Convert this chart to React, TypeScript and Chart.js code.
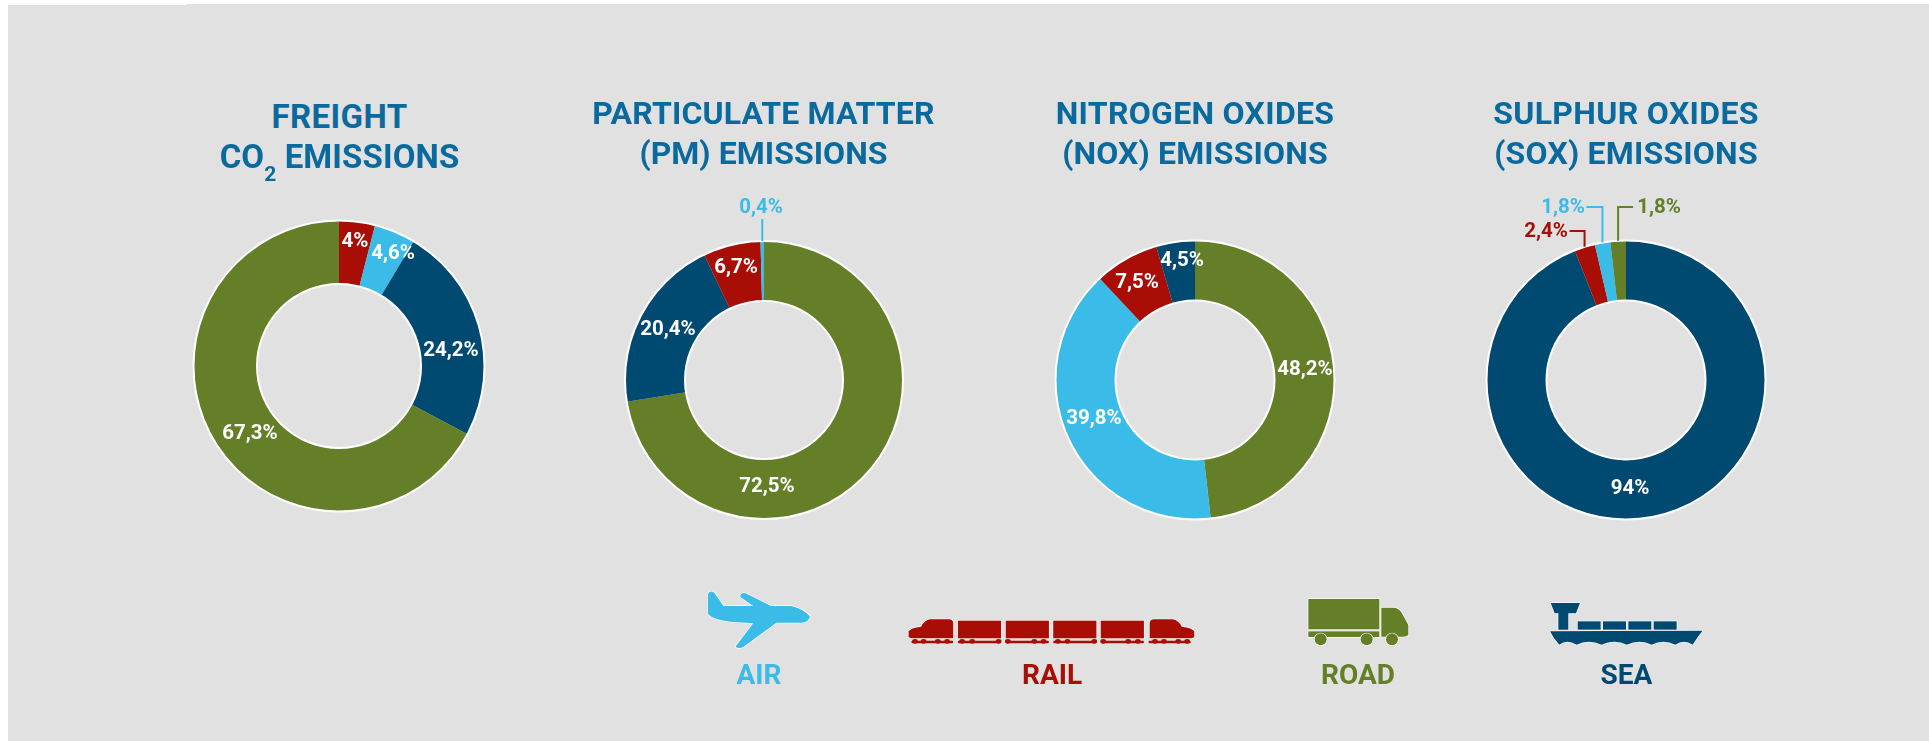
import React, { useEffect, useRef } from "react";
import { Chart, registerables } from "chart.js";

Chart.register(...registerables);

const C = { air: "#3bbce8", rail: "#a80e05", road: "#647f27", sea: "#004a72" };
const TITLE = "#0a6a9e";
const FONT = "Roboto, sans-serif";

// values, clockwise from 12 o'clock
const freightModes = ["rail", "air", "sea", "road"];
const freightValues = [4, 4.6, 24.2, 67.3];
const freightLabels = ["4%", "4,6%", "24,2%", "67,3%"];

const pmModes = ["road", "sea", "rail", "air"];
const pmValues = [72.5, 20.4, 6.7, 0.4];
const pmLabels = ["72,5%", "20,4%", "6,7%", "0,4%"];

const noxModes = ["road", "air", "rail", "sea"];
const noxValues = [48.2, 39.8, 7.5, 4.5];
const noxLabels = ["48,2%", "39,8%", "7,5%", "4,5%"];

const soxModes = ["sea", "rail", "air", "road"];
const soxValues = [94, 2.4, 1.8, 1.8];
const soxLabels = ["94%", "2,4%", "1,8%", "1,8%"];

const legendNames = ["AIR", "RAIL", "ROAD", "SEA"];

type Place = { dx: number; dy: number; out?: boolean; elbowY?: number; elbowDx?: number };

const SIZE = 400;

const donuts = [
  {
    cx: 339, cy: 366, r: 145.5, hole: 82,
    modes: freightModes, values: freightValues, labels: freightLabels,
    places: [{ dx: 16, dy: -124 }, { dx: 54, dy: -112 }, { dx: 112, dy: -15 }, { dx: -89, dy: 68 }] as Place[],
  },
  {
    cx: 763.5, cy: 380, r: 139, hole: 79,
    modes: pmModes, values: pmValues, labels: pmLabels,
    places: [{ dx: 3, dy: 107 }, { dx: -96, dy: -50 }, { dx: -28, dy: -112 }, { dx: -3, dy: -172, out: true, elbowY: -161 }] as Place[],
  },
  {
    cx: 1195, cy: 380, r: 139.5, hole: 79.5,
    modes: noxModes, values: noxValues, labels: noxLabels,
    places: [{ dx: 110, dy: -10 }, { dx: -101, dy: 39 }, { dx: -58, dy: -97 }, { dx: -13, dy: -119 }] as Place[],
  },
  {
    cx: 1626, cy: 380, r: 139.5, hole: 79.5,
    modes: soxModes, values: soxValues, labels: soxLabels,
    places: [
      { dx: 4, dy: 109 },
      { dx: -80, dy: -148, out: true, elbowY: -149, elbowDx: -15 },
      { dx: -63, dy: -172, out: true, elbowY: -173, elbowDx: -16 },
      { dx: 33, dy: -172, out: true, elbowY: -173, elbowDx: 15 },
    ] as Place[],
  },
];

const ringPlugin = {
  id: "ringAndLabels",
  afterDatasetsDraw(chart: any, _a: any, opts: any) {
    const { ctx } = chart;
    const arcs = chart.getDatasetMeta(0).data;
    const { x, y, outerRadius, innerRadius } = arcs[0].getProps(["x", "y", "outerRadius", "innerRadius"], true);
    ctx.save();
    ctx.strokeStyle = "#ffffff";
    ctx.lineWidth = 2;
    ctx.beginPath();
    ctx.arc(x, y, outerRadius, 0, Math.PI * 2);
    ctx.stroke();
    ctx.beginPath();
    ctx.arc(x, y, innerRadius, 0, Math.PI * 2);
    ctx.stroke();

    ctx.font = `700 20.5px ${FONT}`;
    ctx.textAlign = "center";
    ctx.textBaseline = "middle";
    opts.labels.forEach((text: string, i: number) => {
      const p: Place = opts.places[i];
      const color = opts.colors[i];
      if (p.out) {
        const a = arcs[i].getProps(["startAngle", "endAngle"], true);
        const mid = (a.startAngle + a.endAngle) / 2;
        const ax = x + outerRadius * Math.cos(mid);
        const ay = y + outerRadius * Math.sin(mid);
        ctx.strokeStyle = color;
        ctx.lineWidth = 2;
        ctx.beginPath();
        ctx.moveTo(ax, ay);
        ctx.lineTo(ax, y + p.elbowY!);
        if (p.elbowDx) ctx.lineTo(ax + p.elbowDx, y + p.elbowY!);
        ctx.stroke();
      }
      ctx.fillStyle = p.out ? color : "#ffffff";
      ctx.fillText(text, x + p.dx, y + p.dy);
    });
    ctx.restore();
  },
};

function Donut({ d }: { d: (typeof donuts)[number] }) {
  const ref = useRef<HTMLCanvasElement>(null);
  useEffect(() => {
    const colors = d.modes.map((m) => (C as any)[m]);
    const chart = new Chart(ref.current!, {
      type: "doughnut",
      data: {
        labels: d.labels,
        datasets: [{ data: d.values, backgroundColor: colors, borderWidth: 0 }],
      },
      options: {
        responsive: false,
        animation: false,
        radius: d.r,
        cutout: `${(d.hole / d.r) * 100}%`,
        rotation: 0,
        plugins: {
          legend: { display: false },
          tooltip: { enabled: false },
          ringAndLabels: { labels: d.labels, places: d.places, colors },
        },
      } as any,
      plugins: [ringPlugin],
    });
    return () => chart.destroy();
  }, []);
  return (
    <canvas
      ref={ref}
      width={SIZE}
      height={SIZE}
      style={{ position: "absolute", left: d.cx - SIZE / 2, top: d.cy - SIZE / 2, width: SIZE, height: SIZE }}
    />
  );
}

const titles = [
  { cx: 339.5, y1: 117, y2: 157, size: 33, ls: 0.4, ls2: 0.1, color: TITLE, l1: "FREIGHT", l2: <>CO<sub style={{ fontSize: 21, verticalAlign: "-13px", lineHeight: 0 }}>2</sub> EMISSIONS</> },
  { cx: 763.5, y1: 112.5, y2: 153, size: 32, ls: 0.15, ls2: 0.05, color: TITLE, l1: "PARTICULATE MATTER", l2: "(PM) EMISSIONS" },
  { cx: 1195, y1: 112.5, y2: 153, size: 32, ls: 0.3, ls2: 0.15, color: TITLE, l1: "NITROGEN OXIDES", l2: "(NOX) EMISSIONS" },
  { cx: 1626, y1: 112.5, y2: 153, size: 32, ls: 0.35, ls2: 0.2, color: TITLE, l1: "SULPHUR OXIDES", l2: "(SOX) EMISSIONS" },
];

function Label({ cx, y, size, color, ls, children }: any) {
  return (
    <div
      style={{
        position: "absolute", left: cx - 300, width: 600, top: y - 30, height: 60, lineHeight: "60px",
        textAlign: "center", fontFamily: FONT, fontWeight: 700, fontSize: size, color,
        letterSpacing: ls ?? 0, whiteSpace: "nowrap",
      }}
    >
      {children}
    </div>
  );
}

const waves = "M810 184 L1268 182 Q1252 200 1238 224 Q1212 206 1186 224 Q1150 206 1115 224 Q1080 206 1040 224 Q1005 206 965 224 Q925 206 890 224 Q860 206 838 224 Q820 206 810 184 Z";

function Icons() {
  const outline = { stroke: "#fff", strokeWidth: 4, paintOrder: "stroke", strokeLinejoin: "round" } as any;
  const carXs = [778, 912, 1045, 1178];
  return (
    <>
      <svg viewBox="0 0 1568 390" preserveAspectRatio="none" style={{ position: "absolute", left: 680, top: 570, width: 560, height: 130 }}>
        <path
          {...outline}
          fill={C.air}
          d="M78 72 Q84 60 96 68 L122 108 L205 108 L168 80 Q170 66 184 70 L255 108 L312 108 Q350 118 364 140 Q360 156 340 158 L270 158 L178 230 Q165 238 155 230 L205 160 L140 155 Q95 150 78 132 Z"
        />
        <g fill={C.rail} {...outline}>
          <path d="M640 202 L640 184 Q645 174 675 170 Q685 150 700 148 L755 148 Q765 150 765 160 L765 205 L648 205 Z" />
          <path d="M1440 202 L1440 184 Q1435 174 1405 170 Q1395 150 1380 148 L1325 148 Q1315 150 1315 160 L1315 205 L1432 205 Z" />
          {carXs.map((x) => <rect key={x} x={x} y={152} width={121} height={53} />)}
        </g>
        <g fill={C.rail}>
          {[648, 778, 912, 1045, 1178, 1312].map((x, i) => (
            <rect key={x} x={x} y={212} width={i === 0 || i === 5 ? (i === 0 ? 117 : 118) : 121} height={8} rx={3} />
          ))}
          {[658, 682, 722, 748, 790, 818, 892, 918, 992, 1018, 1058, 1085, 1160, 1185, 1255, 1282, 1330, 1355, 1395, 1420].map((x) => (
            <ellipse key={x} cx={x} cy={214} rx={8} ry={7} />
          ))}
        </g>
      </svg>
      <svg viewBox="0 0 1380 390" preserveAspectRatio="none" style={{ position: "absolute", left: 1280, top: 570, width: 460, height: 130 }}>
        <g fill={C.road} {...outline}>
          <rect x={85} y={87} width={213} height={91} />
          <rect x={85} y={184} width={213} height={17} />
          <path d="M304 113 L342 113 Q358 115 366 130 L385 165 L385 195 Q380 200 370 200 L304 200 Z" />
          <circle cx={122} cy={208} r={18} />
          <circle cx={260} cy={208} r={18} />
          <circle cx={336} cy={208} r={18} />
        </g>
        <g fill={C.sea} {...outline}>
          <path d="M812 99 L900 99 L888 130 L865 130 L865 179 L835 179 L835 130 L824 130 Z" />
          {[893, 969, 1045, 1121].map((x) => <rect key={x} x={x} y={154} width={69} height={25} />)}
          <path d={waves} />
        </g>
      </svg>
    </>
  );
}

export default function App() {
  return (
    <div style={{ position: "absolute", left: 0, top: 0, width: 1929, height: 741, overflow: "hidden", background: "#fff" }}>
      <div style={{ position: "absolute", left: 8, top: 5, width: 178, height: 736, background: "#e1e1e1" }} />
      <div style={{ position: "absolute", left: 186, top: 4, width: 1743, height: 737, background: "#e1e1e1" }} />
      {donuts.map((d, i) => <Donut key={i} d={d} />)}
      {titles.map((t, i) => (
        <React.Fragment key={i}>
          <Label cx={t.cx} y={t.y1} size={t.size} color={t.color} ls={t.ls}>{t.l1}</Label>
          <Label cx={t.cx} y={t.y2} size={t.size} color={t.color} ls={t.ls2}>{t.l2}</Label>
        </React.Fragment>
      ))}
      <Icons />
      <Label cx={759} y={675} size={28} color={C.air}>{legendNames[0]}</Label>
      <Label cx={1052} y={675} size={28} color={C.rail}>{legendNames[1]}</Label>
      <Label cx={1358} y={675} size={28} color={C.road}>{legendNames[2]}</Label>
      <Label cx={1626.5} y={675} size={28} color={C.sea}>{legendNames[3]}</Label>
    </div>
  );
}
